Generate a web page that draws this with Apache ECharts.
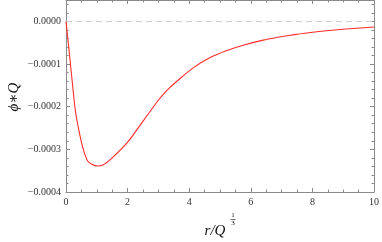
<!DOCTYPE html>
<html>
<head>
<meta charset="utf-8">
<script src="https://cdn.jsdelivr.net/npm/echarts@6/dist/echarts.min.js"></script>
<style>
html,body{margin:0;padding:0;background:#fff;}
#c{width:382px;height:242px;}
</style>
</head>
<body>
<div id="c"></div>
<script>
// r / Q^(1/3)
const rValues = [0, 0.1, 0.2, 0.31, 0.44, 0.57, 0.71, 0.85, 1.03, 1.2, 1.44, 1.98, 2.52, 3.03, 3.32, 3.59, 4.13, 4.68, 5.2, 5.75, 6.4, 6.87, 7.3, 8.0, 9.0, 10];
// phi * Q
const phiValues = [0, -0.000068, -0.000140, -0.000212, -0.000263, -0.000302, -0.000328, -0.0003355, -0.000339, -0.0003365, -0.000324, -0.000285, -0.000232, -0.000182, -0.000159, -0.000141, -0.000109, -0.000085, -0.000069, -0.000056, -0.000044, -0.0000375, -0.0000325, -0.0000255, -0.0000185, -0.0000133];
const xTickLabels = ['0', '2', '4', '6', '8', '10'];
const yTickValues = [0, -0.0001, -0.0002, -0.0003, -0.0004];
const referenceLevel = 0;

const seriesData = rValues.map((r, i) => [r, phiValues[i]]);
const fontFam = "'Liberation Serif','DejaVu Serif',serif";
const frameColor = '#8a8a8a';
const labelColor = '#333';

function yFmt(v) {
  const hit = yTickValues.find(t => Math.abs(t - v) < 1e-9);
  if (hit === undefined) return '';
  return Math.abs(hit) < 1e-12 ? '0.0000' : hit.toFixed(4).replace('-', '\u2212');
}
function xFmt(v) {
  const s = String(Math.round(v));
  return xTickLabels.indexOf(s) >= 0 ? s : '';
}

const chart = echarts.init(document.getElementById('c'), null, {renderer: 'canvas'});
const axisLineStyle = {show: true, onZero: false, lineStyle: {color: frameColor, width: 1}};
const majorTick = {show: true, inside: true, length: 4, lineStyle: {color: frameColor, width: 1}};
const minorTickX = {show: true, splitNumber: 4, length: 2.5, lineStyle: {color: frameColor, width: 1}};
const minorTickY = {show: true, splitNumber: 5, length: 2.5, lineStyle: {color: frameColor, width: 1}};

chart.setOption({
  animation: false,
  backgroundColor: '#fff',
  grid: {left: 66, right: 7, top: 0, bottom: 50, containLabel: false},
  xAxis: [
    {
      type: 'value', min: 0, max: 10, interval: 2, position: 'bottom',
      axisLine: axisLineStyle, axisTick: majorTick, minorTick: minorTickX,
      splitLine: {show: false}, minorSplitLine: {show: false},
      axisLabel: {show: true, margin: 5, color: labelColor, fontFamily: fontFam, fontSize: 10, formatter: xFmt}
    },
    {
      type: 'value', min: 0, max: 10, interval: 2, position: 'top',
      axisLine: axisLineStyle, axisTick: majorTick, minorTick: minorTickX,
      splitLine: {show: false}, axisLabel: {show: false}
    }
  ],
  yAxis: [
    {
      type: 'value', min: -0.0004, max: 0.00005, interval: 0.0001, position: 'left',
      axisLine: axisLineStyle, axisTick: majorTick, minorTick: minorTickY,
      splitLine: {show: false}, minorSplitLine: {show: false},
      axisLabel: {show: true, margin: 5, color: labelColor, fontFamily: fontFam, fontSize: 10, formatter: yFmt, showMaxLabel: false}
    },
    {
      type: 'value', min: -0.0004, max: 0.00005, interval: 0.0001, position: 'right',
      axisLine: axisLineStyle, axisTick: majorTick, minorTick: minorTickY,
      splitLine: {show: false}, axisLabel: {show: false}
    }
  ],
  series: [
    {
      type: 'line',
      xAxisIndex: 0, yAxisIndex: 0,
      data: seriesData,
      smooth: 0.35,
      showSymbol: false,
      symbol: 'none',
      lineStyle: {color: '#ff2a2a', width: 1.1},
      silent: true,
      z: 3,
      markLine: {
        silent: true,
        symbol: 'none',
        label: {show: false},
        lineStyle: {type: [6, 4], color: '#cfcfcf', width: 1},
        data: [{yAxis: referenceLevel}],
        z: 1
      }
    }
  ],
  graphic: [
    {
      type: 'text', x: 14, y: 97, rotation: Math.PI / 2,
      style: {text: '\u03D5\u2217Q', font: "italic 15px " + fontFam, fill: '#111', align: 'center', verticalAlign: 'middle'}
    },
    {
      type: 'text', x: 215, y: 231,
      style: {text: 'r/Q', font: "italic 15px " + fontFam, fill: '#111', align: 'center', verticalAlign: 'middle'}
    },
    {
      type: 'text', x: 233, y: 215,
      style: {text: '1', font: "7px " + fontFam, fill: '#111', align: 'center', verticalAlign: 'middle'}
    },
    {
      type: 'line', shape: {x1: 230.5, y1: 219.5, x2: 235.5, y2: 219.5},
      style: {stroke: '#111', lineWidth: 0.6}
    },
    {
      type: 'text', x: 233, y: 223.5,
      style: {text: '3', font: "7px " + fontFam, fill: '#111', align: 'center', verticalAlign: 'middle'}
    }
  ]
});
</script>
</body>
</html>
